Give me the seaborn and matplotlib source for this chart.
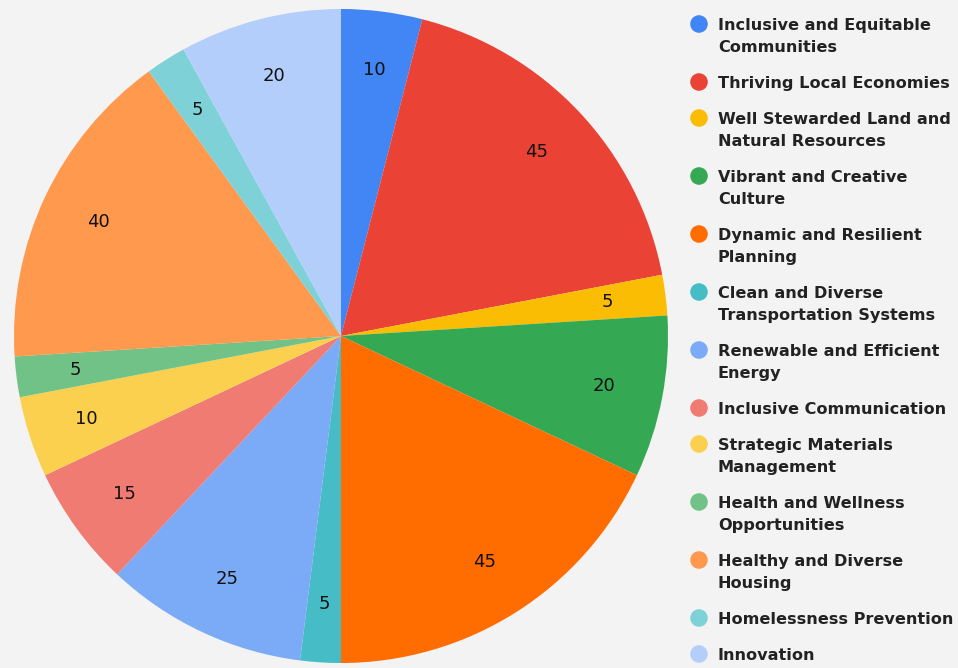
import matplotlib.pyplot as plt
import seaborn as sns

# Chart data
categories = [
    "Inclusive and Equitable\nCommunities",
    "Thriving Local Economies",
    "Well Stewarded Land and\nNatural Resources",
    "Vibrant and Creative\nCulture",
    "Dynamic and Resilient\nPlanning",
    "Clean and Diverse\nTransportation Systems",
    "Renewable and Efficient\nEnergy",
    "Inclusive Communication",
    "Strategic Materials\nManagement",
    "Health and Wellness\nOpportunities",
    "Healthy and Diverse\nHousing",
    "Homelessness Prevention",
    "Innovation",
]
values = [10, 45, 5, 20, 45, 5, 25, 15, 10, 5, 40, 5, 20]
colors = sns.color_palette([
    "#4285F4", "#EA4335", "#FBBC04", "#34A853", "#FF6D01", "#46BDC6",
    "#7BAAF7", "#F07B72", "#FCD04F", "#71C287", "#FF994D", "#7ED1D7",
    "#B3CEFB"])

sns.set_style("white")
plt.rcParams["font.family"] = ["DejaVu Sans"]
bg = "#F3F3F3"

W, H = 958, 668
fig = plt.figure(figsize=(W / 100, H / 100), dpi=100, facecolor=bg)

# Pie axes (pixel box: x 14..668, y 9..663)
ax = fig.add_axes([14 / W, 5 / H, 654 / W, 654 / H])
ax.set_facecolor(bg)
total = sum(values)
wedges, texts, autotexts = ax.pie(
    values,
    colors=colors,
    startangle=90,
    counterclock=False,
    radius=1.0,
    autopct=lambda p: f"{round(p * total / 100):d}",
    pctdistance=0.82,
    wedgeprops=dict(linewidth=0),
    textprops=dict(fontsize=13, color="#111111"),
)
ax.set_xlim(-1.0, 1.0)
ax.set_ylim(-1.0, 1.0)
ax.set_aspect("equal")
ax.axis("off")

# Legend drawn in pixel coordinates
lax = fig.add_axes([0, 0, 1, 1])
lax.set_xlim(0, W)
lax.set_ylim(H, 0)
lax.axis("off")
lax.patch.set_alpha(0)
y = 24
for label, c in zip(categories, colors):
    lax.scatter([699], [y], s=160, color=c, edgecolors="none")
    lines = label.split("\n")
    for i, line in enumerate(lines):
        lax.text(718, y + 22 * i, line, fontsize=11.6, fontweight="bold",
                 color="#222222", va="center_baseline", ha="left")
    y += 36 + 22 * (len(lines) - 1)

fig.savefig("out.png", dpi=100, facecolor=bg)
